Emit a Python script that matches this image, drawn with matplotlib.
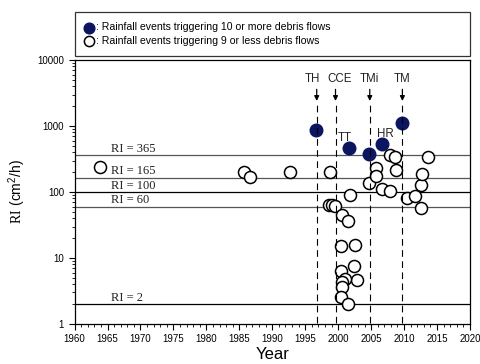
import matplotlib
matplotlib.use("Agg")
import matplotlib.pyplot as plt
from matplotlib.ticker import MultipleLocator, FixedLocator, NullFormatter

plt.rcParams['font.family'] = ['Liberation Sans', 'DejaVu Sans']
plt.rcParams['mathtext.fontset'] = 'custom'
plt.rcParams['mathtext.rm'] = 'Liberation Serif'
plt.rcParams['mathtext.sf'] = 'Liberation Sans'

# events triggering 10 or more debris flows
big_years = [1996.7, 2001.6, 2004.7, 2006.6, 2009.75]
big_ri = [860, 470, 375, 530, 1100]

# events triggering 9 or less debris flows
small_years = [1963.8, 1985.7, 1986.7, 1992.7, 1998.8, 1998.6, 1999.1, 1999.5,
               2000.6, 2001.55, 2001.8, 2000.4, 2002.6, 2002.4, 2000.4, 2002.8,
               2001.0, 2000.6, 2000.6, 2000.4, 2001.55, 2004.7, 2005.7, 2005.7,
               2006.6, 2007.8, 2007.8, 2008.6, 2008.8, 2010.5, 2011.7, 2012.6,
               2012.6, 2012.8, 2013.7]
small_ri = [242, 201, 171, 198, 200, 64, 63, 62,
            45, 36, 91, 15, 15.6, 7.5, 6.3, 4.6,
            4.8, 4.3, 3.6, 2.6, 2.0, 136, 230, 172,
            113, 104, 370, 345, 215, 80, 88, 57,
            128, 186, 343]

# RI threshold lines
thresholds = [365, 165, 100, 60, 2]
threshold_colors = ['#555555', '#555555', 'black', '#555555', 'black']

# typhoon events marked with arrows (label shifted a little to avoid overlap)
event_names = ['TH', 'CCE', 'TMi', 'TM']
event_years = [1996.75, 1999.6, 2004.8, 2009.75]
label_shift = [-0.7, 0.7, 0.0, 0.0]

fig = plt.figure(figsize=(4.81, 3.64), dpi=100)
ax = fig.add_axes([0.155, 0.11, 0.822, 0.725])

ax.set_yscale('log')
ax.set_xlim(1960, 2020)
ax.set_ylim(1, 10000)

for ri, c in zip(thresholds, threshold_colors):
    ax.axhline(ri, color=c, lw=0.9, zorder=1)
    ax.text(1965.6, ri * 1.12, 'RI = %d' % ri, family='Liberation Serif',
            fontsize=9, va='baseline', ha='left', color='#222222')

h_small = ax.scatter(small_years, small_ri, s=75, facecolors='white',
                     edgecolors='black', linewidths=1.1, zorder=3)
h_big = ax.scatter(big_years, big_ri, s=82, color='#0b1560',
                   edgecolors='#0b1560', zorder=4)

ax.vlines(event_years, 1.05, 2300, colors='black', lw=0.8,
          linestyles=(0, (6, 4)), zorder=5)
for name, yr, dx in zip(event_names, event_years, label_shift):
    ax.annotate('', xy=(yr, 2400), xytext=(yr, 3600),
                arrowprops=dict(arrowstyle='-|>', color='black', lw=0.9,
                                mutation_scale=7, shrinkA=0, shrinkB=0))
    ax.text(yr + dx, 5200, name, ha='center', va='center', fontsize=8.3, color='#222222')

ax.text(2001.05, 660, 'TT', ha='center', va='center', fontsize=8.3, color='#222222')
ax.text(2007.2, 760, 'HR', ha='center', va='center', fontsize=8.3, color='#222222')

ax.xaxis.set_major_locator(MultipleLocator(5))
ax.xaxis.set_minor_locator(MultipleLocator(1))
ax.yaxis.set_major_locator(FixedLocator([1, 10, 100, 1000, 10000]))
ax.set_yticklabels(['1', '10', '100', '1000', '10000'])
ax.yaxis.set_minor_formatter(NullFormatter())
ax.tick_params(which='major', direction='out', length=4.5, width=0.8, labelsize=7, pad=3)
ax.tick_params(which='minor', direction='out', length=2.2, width=0.6)
ax.tick_params(axis='y', which='both', right=False)
for sp in ax.spines.values():
    sp.set_linewidth(0.9)

ax.set_xlabel('Year', fontsize=12, labelpad=2)
ax.set_ylabel(r'$\mathrm{RI}\ \mathsf{(cm^2/h)}$', fontsize=10, labelpad=7)

leg = ax.legend([h_big, h_small],
                [': Rainfall events triggering 10 or more debris flows',
                 ': Rainfall events triggering 9 or less debris flows'],
                loc='lower left', bbox_to_anchor=(0, 1.015, 1, 0.1), mode='expand',
                borderaxespad=0, fontsize=7.6, frameon=True, fancybox=False,
                edgecolor='black', handlelength=0.9, handletextpad=0.15,
                labelspacing=0.35, borderpad=0.95, markerscale=0.85)
leg.get_frame().set_linewidth(0.9)

fig.savefig('out.png', dpi=100)
